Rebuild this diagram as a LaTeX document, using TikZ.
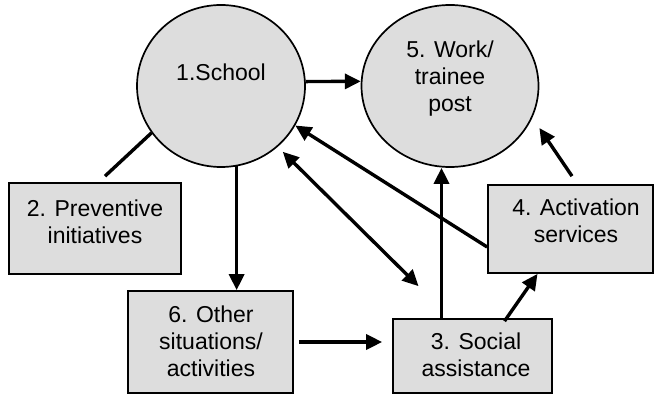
\documentclass[tikz,border=0pt]{standalone}
\usepackage{fontspec}
\setmainfont{Liberation Sans}
\usetikzlibrary{shapes.geometric,arrows.meta,calc}
\definecolor{boxgray}{HTML}{DDDDDD}
\begin{document}
\begin{tikzpicture}[x=1pt,y=-1pt,
  ell/.style={ellipse,draw,line width=1.7pt,fill=boxgray,inner sep=0pt},
  boxnode/.style={rectangle,draw,line width=1.7pt,fill=boxgray,inner sep=0pt},
  txt/.style={align=center,inner sep=0pt,font=\fontsize{23}{27}\selectfont},
  conn/.style={line width=3.4pt},
  arr/.style={conn,-{Triangle[length=16pt,width=15pt]}},
  dbl/.style={conn,{Triangle[length=16pt,width=15pt]}-{Triangle[length=16pt,width=15pt]}}]
\useasboundingbox (0,0) rectangle (655,395);
% circles
\node[ell,minimum width=168pt,minimum height=162pt] (c1) at (221,86) {};
\node[txt] (t1) at (221,72) {1.School};
\node[ell,minimum width=177pt,minimum height=162pt] (c5) at (450,86) {};
\node[txt] (t5) at (450,79) {5. Work/\\trainee\\post};
% boxes
\node[boxnode,minimum width=172pt,minimum height=91pt] (b2) at (95,228.5) {};
\node[txt] (t2) at (95,221.5) {2. Preventive\\initiatives};
\node[boxnode,minimum width=165pt,minimum height=88pt] (b4) at (570.5,229) {};
\node[txt] (t4) at (576,221) {4. Activation\\services};
\node[boxnode,minimum width=165pt,minimum height=102pt] (b6) at (210.5,342) {};
\node[txt] (t6) at (211,341) {6. Other\\situations/\\activities};
\node[boxnode,minimum width=159pt,minimum height=74pt] (b3) at (472.5,356) {};
\node[txt] (t3) at (476,354.5) {3. Social\\assistance};
% connectors
\coordinate (p2) at ($(b2.north)+(10,-6)$);
\draw[conn] (p2) -- (c1.214);
\draw[arr] (c1.3) -- (c5.177);
\draw[arr] (c1.281) -- (c1.281 |- b6.north);
\draw[arr,shorten <=5pt,shorten >=10pt] (b6.east) -- (b6.east -| b3.west);
\coordinate (s35) at ($(b3.north)+(-31,0)$);
\draw[arr] (s35) -- (s35 |- c5.south);
\draw[arr] ($(b3.north)+(32,3)$) -- ($(b4.south)+(-33,0)$);
\coordinate (e45) at ($(c5.east)+(0,42)$);
\draw[arr] ($(b4.north)+(1.5,-8)$) -- (e45);
\draw[arr] ($(b4.west)+(0,18)$) -- (c1.332);
\coordinate (e13) at ($(b3.north)+(-54,-32)$);
\draw[dbl,shorten <=7pt] (c1.313) -- (e13);
\end{tikzpicture}
\end{document}
